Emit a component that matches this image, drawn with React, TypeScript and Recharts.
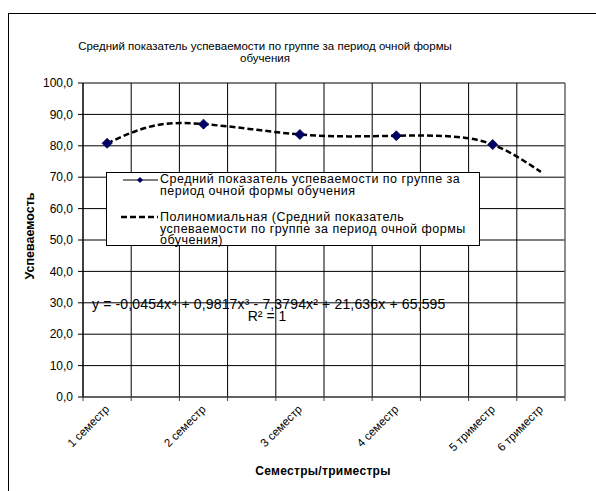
import React from 'react';
import {
  ComposedChart,
  Line,
  XAxis,
  YAxis,
  CartesianGrid,
  ReferenceLine,
  Legend,
} from 'recharts';

// 10 category slots, the data sits on the odd ones (Excel sheet had blank rows)
const categories = [
  '1 семестр', '', '2 семестр', '', '3 семестр', '', '4 семестр', '', '5 триместр', '6 триместр',
];
const avgScore = [80.8, null, 86.9, null, 83.6, null, 83.2, null, 80.4, null];
const trendScore = [80.8, 86.5, 86.9, 85.3, 83.6, 83.0, 83.2, 83.1, 80.4, 71.7];
const yTicks = [0, 10, 20, 30, 40, 50, 60, 70, 80, 90, 100];
const xBounds = [0.5, 1.5, 2.5, 3.5, 4.5, 5.5, 6.5, 7.5, 8.5, 9.5, 10.5];

const seriesName = 'Средний показатель успеваемости по группе за период очной формы обучения';
const trendName = 'Полиномиальная (Средний показатель успеваемости по группе за период очной формы обучения)';

const FONT = '"Liberation Sans", Arial, sans-serif';
const W = 596;
const H = 491;
const PLOT_LEFT = 83;
const PLOT_RIGHT = 565;
const BAND = (PLOT_RIGHT - PLOT_LEFT) / categories.length;

const rows = categories.map((label, i) => ({
  x: i + 1,
  label,
  value: avgScore[i],
  trend: trendScore[i],
}));

const fmt = (v: number) => v.toFixed(1).replace('.', ',');

const XTick = (props: any) => {
  const { x, y, payload } = props;
  const idx = Math.round(payload.value + 0.5) - 1;
  const label = categories[idx];
  if (!label) return <g />;
  const ax = x + BAND / 2 + 3;
  const ay = y + 7;
  return (
    <text
      x={ax}
      y={ay}
      transform={`rotate(-45 ${ax} ${ay})`}
      textAnchor="end"
      fontSize={11.5}
      fontFamily={FONT}
      fill="#000"
      stroke="none"
    >
      {label}
    </text>
  );
};

const Diamond = (props: any) => {
  const { cx, cy, index } = props;
  if (cy == null || cx == null) return <g key={index} />;
  const r = 5;
  return (
    <path
      key={index}
      d={`M${cx},${cy - r}L${cx + r},${cy}L${cx},${cy + r}L${cx - r},${cy}Z`}
      fill="#000066"
      stroke="#000044"
      strokeWidth={0.8}
    />
  );
};

const LegendBox = () => (
  <div
    style={{
      width: 372,
      height: 72,
      border: '1px solid #000',
      background: '#fff',
      fontFamily: FONT,
      fontSize: 12.5,
      letterSpacing: 0.5,
      lineHeight: '11.7px',
      color: '#000',
      position: 'relative',
      overflow: 'visible',
    }}
  >
    <svg width={60} height={72} style={{ position: 'absolute', left: 0, top: 0 }}>
      <line x1={16} y1={7} x2={51} y2={7} stroke="#000" strokeWidth={1} />
      <path d="M33,4L36,7L33,10L30,7Z" fill="#000066" />
      <line x1={14} y1={44} x2={51} y2={44} stroke="#000" strokeWidth={2.5} strokeDasharray="6 3" />
    </svg>
    <div style={{ position: 'absolute', left: 53, top: 1, width: 330, whiteSpace: 'nowrap' }}>
      Средний показатель успеваемости по группе за
      <br />
      период очной формы обучения
    </div>
    <div style={{ position: 'absolute', left: 53, top: 39, width: 330, whiteSpace: 'nowrap' }}>
      Полиномиальная (Средний показатель
      <br />
      успеваемости по группе за период очной формы
      <br />
      обучения)
    </div>
  </div>
);

export default function App() {
  return (
    <div style={{ position: 'absolute', left: 0, top: 0, width: W, height: H, background: '#fff', overflow: 'hidden' }}>
      <div
        style={{
          position: 'absolute',
          left: 8,
          top: 13,
          width: W,
          height: H,
          borderTop: '1px solid #000',
          borderLeft: '1px solid #000',
        }}
      />
      <div
        style={{
          position: 'absolute',
          left: 65,
          top: 40,
          width: 400,
          textAlign: 'center',
          fontFamily: FONT,
          fontSize: 11.5,
          lineHeight: '12px',
        }}
      >
        Средний показатель успеваемости по группе за период очной формы
        <br />
        обучения
      </div>
      <div style={{ position: 'absolute', left: 0, top: 0 }}>
        <ComposedChart
          width={W}
          height={H}
          data={rows}
          margin={{ top: 83, right: W - PLOT_RIGHT, bottom: 0, left: 0 }}
        >
          <CartesianGrid stroke="#000" strokeWidth={1} />
          <XAxis
            dataKey="x"
            type="number"
            domain={[0.5, 10.5]}
            ticks={xBounds}
            interval={0}
            height={94}
            tickSize={4}
            tickMargin={2}
            stroke="#444"
            tick={<XTick />}
          />
          <YAxis
            type="number"
            domain={[0, 100]}
            ticks={yTicks}
            interval={0}
            width={PLOT_LEFT}
            tickSize={5}
            tickMargin={5}
            stroke="#000"
            tickFormatter={fmt}
            tick={{ fontSize: 12, fontFamily: FONT, fill: '#000' }}
          />
          <ReferenceLine x={10.5} stroke="#999" strokeWidth={1} />
          <Line
            name={trendName}
            dataKey="trend"
            type="natural"
            stroke="#000"
            strokeWidth={2.5}
            strokeDasharray="6 3"
            dot={false}
            activeDot={false}
            isAnimationActive={false}
          />
          <Line
            name={seriesName}
            dataKey="value"
            stroke="none"
            dot={<Diamond />}
            activeDot={false}
            connectNulls={false}
            isAnimationActive={false}
          />
          <Legend
            layout="vertical"
            align="center"
            verticalAlign="middle"
            content={() => <LegendBox />}
            wrapperStyle={{ position: 'absolute', left: 106, top: 172, width: 374, height: 74 }}
          />
        </ComposedChart>
      </div>
      <div
        style={{
          position: 'absolute',
          left: 92,
          top: 297,
          fontFamily: FONT,
          fontSize: 14,
          letterSpacing: 0.15,
          lineHeight: '14px',
          whiteSpace: 'nowrap',
        }}
      >
        y = -0,0454x⁴ + 0,9817x³ - 7,3794x² + 21,636x + 65,595
      </div>
      <div
        style={{
          position: 'absolute',
          left: 232,
          top: 309,
          width: 70,
          textAlign: 'center',
          fontFamily: FONT,
          fontSize: 14,
          lineHeight: '14px',
        }}
      >
        R² = 1
      </div>
      <div
        style={{
          position: 'absolute',
          left: 213,
          top: 464,
          width: 220,
          textAlign: 'center',
          fontFamily: FONT,
          fontSize: 12,
          letterSpacing: 0.3,
          fontWeight: 'bold',
        }}
      >
        Семестры/триместры
      </div>
      <div
        style={{
          position: 'absolute',
          left: -30,
          top: 229,
          width: 120,
          textAlign: 'center',
          fontFamily: FONT,
          fontSize: 12.5,
          fontWeight: 'bold',
          transform: 'rotate(-90deg)',
        }}
      >
        Успеваемость
      </div>
    </div>
  );
}
